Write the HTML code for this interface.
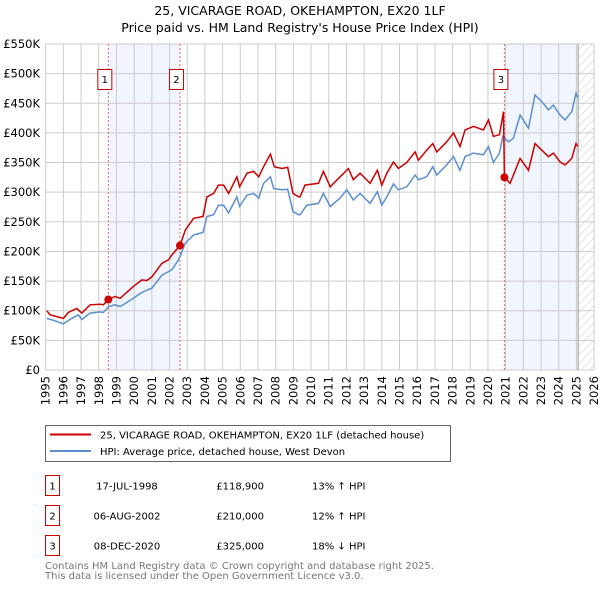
<!DOCTYPE html>
<html><head><meta charset="utf-8"><style>
body{margin:0;background:#fff;font-family:"Liberation Sans","DejaVu Sans",sans-serif;}
svg text{font-family:"DejaVu Sans","Liberation Sans",sans-serif;}
</style></head><body>
<svg id="chart" width="600" height="590" xmlns="http://www.w3.org/2000/svg">
<defs><pattern id="hatch" width="6" height="6" patternUnits="userSpaceOnUse" patternTransform="rotate(45)"><line x1="0" y1="0" x2="0" y2="6" stroke="#bbb" stroke-width="0.8"/></pattern></defs>
<text x="300" y="15" font-size="12.5" text-anchor="middle" fill="#000">25, VICARAGE ROAD, OKEHAMPTON, EX20 1LF</text>
<text x="300" y="32" font-size="12.5" text-anchor="middle" fill="#000">Price paid vs. HM Land Registry's House Price Index (HPI)</text>
<g id="grid"></g><g id="marks"></g><g id="axes"></g>
<rect x="45.5" y="425.5" width="405" height="36" fill="#fff" stroke="#666"/>
<line x1="50" y1="434.5" x2="91" y2="434.5" stroke="#cc0000" stroke-width="2"/>
<text x="100" y="438.5" font-size="10">25, VICARAGE ROAD, OKEHAMPTON, EX20 1LF (detached house)</text>
<line x1="50" y1="451" x2="91" y2="451" stroke="#5b8fd0" stroke-width="2"/>
<text x="100" y="455" font-size="10">HPI: Average price, detached house, West Devon</text>
<g id="table" font-size="10"></g>
<text x="45" y="569" font-size="10" fill="#777">Contains HM Land Registry data © Crown copyright and database right 2025.</text>
<text x="45" y="579" font-size="10" fill="#777">This data is licensed under the Open Government Licence v3.0.</text>
</svg>
<script>
const hpiYears=[1995.06,1995.53,1996.0,1996.47,1996.85,1997.04,1997.51,1998.08,1998.26,1998.55,1998.92,1999.21,1999.96,2000.34,2000.72,2001.0,2001.57,2001.94,2002.13,2002.51,2002.89,2003.36,2003.89,2004.11,2004.49,2004.77,2005.06,2005.34,2005.81,2005.96,2006.38,2006.75,2007.04,2007.32,2007.7,2007.89,2008.36,2008.68,2008.98,2009.3,2009.38,2009.76,2010.42,2010.7,2011.08,2011.64,2012.02,2012.39,2012.77,2013.34,2013.75,2014.0,2014.28,2014.66,2014.94,2015.41,2015.88,2016.07,2016.54,2016.88,2017.11,2017.67,2018.05,2018.42,2018.71,2019.18,2019.74,2020.03,2020.31,2020.65,2020.84,2021.16,2021.44,2021.82,2022.29,2022.66,2023.04,2023.42,2023.7,2024.08,2024.36,2024.74,2024.98,2025.08];
const hpiValues=[87,83,78,87,93,85,96,98,97,107,110,107,121,129,135,138,160,166,169,186,214,228,232,259,262,278,278,265,292,276,295,298,290,315,326,306,304,305,267,262,262,278,281,298,276,290,304,287,298,281,301,278,292,314,304,309,329,321,326,343,329,346,360,337,360,366,363,377,350,366,394,385,391,430,408,464,453,439,447,430,422,436,467,459];
const priceYears=[1995.06,1995.25,1996.0,1996.28,1996.75,1997.04,1997.51,1998.08,1998.26,1998.54,1998.92,1999.21,1999.96,2000.43,2000.72,2001.0,2001.57,2001.94,2002.13,2002.59,2002.89,2003.36,2003.89,2004.11,2004.49,2004.77,2005.06,2005.34,2005.81,2005.96,2006.38,2006.75,2007.04,2007.32,2007.7,2007.92,2008.36,2008.68,2008.98,2009.3,2009.38,2009.66,2010.42,2010.7,2011.08,2011.64,2012.11,2012.39,2012.77,2013.34,2013.75,2014.0,2014.28,2014.66,2014.94,2015.41,2015.88,2016.07,2016.54,2016.88,2017.11,2017.67,2018.05,2018.42,2018.71,2019.18,2019.74,2020.03,2020.31,2020.65,2020.88,2020.93,2021.25,2021.82,2022.29,2022.66,2023.04,2023.42,2023.7,2024.08,2024.36,2024.74,2024.98,2025.08];
const priceValues=[100,93,87,97,104,96,110,111,110,118.9,124,121,141,152,151,157,180,186,194,210,236,256,259,292,298,312,312,298,326,309,332,335,326,343,364,343,340,342,298,292,292,312,315,335,309,326,340,321,332,315,337,312,332,351,340,350,368,354,371,382,368,385,400,377,405,411,405,422,394,397,436,325,315,357,337,382,371,360,366,351,346,357,382,377];
const saleLabels=["1","2","3"];
const saleYears=[1998.54,2002.59,2020.93];
const saleValues=[118.9,210,325];
const saleDates=["17-JUL-1998","06-AUG-2002","08-DEC-2020"];
const salePrices=["£118,900","£210,000","£325,000"];
const saleDiffs=["13% ↑ HPI","12% ↑ HPI","18% ↓ HPI"];
const yTicks=[0,50,100,150,200,250,300,350,400,450,500,550];
const yTickLabels=["£0","£50K","£100K","£150K","£200K","£250K","£300K","£350K","£400K","£450K","£500K","£550K"];
const xTicks=[];for(let y=1995;y<=2026;y++)xTicks.push(y);
const shadeRanges=[[1998.54,2002.59],[2020.93,2025.1]];
const X0=45.7,PX=17.69,Y0=370,PY=326/550;
const xs=y=>X0+(y-1995)*PX, ys=v=>Y0-v*PY;
const NS="http://www.w3.org/2000/svg";
function mk(p,t,a){const e=document.createElementNS(NS,t);for(const k in a)e.setAttribute(k,a[k]);p.appendChild(e);return e;}
const grid=document.getElementById('grid'),marks=document.getElementById('marks'),axes=document.getElementById('axes');
shadeRanges.forEach(r=>{const e=mk(grid,'rect',{x:xs(r[0]),y:ys(550),width:xs(r[1])-xs(r[0]),height:Y0-ys(550),fill:'#eef3fc',opacity:0.8});

});
const h=mk(grid,'rect',{x:xs(2025.1),y:ys(550),width:xs(2026)-xs(2025.1),height:Y0-ys(550),fill:'url(#hatch)'});


yTicks.forEach((v,i)=>{const l=mk(grid,'line',{x1:X0,x2:xs(2026),y1:ys(v),y2:ys(v),stroke:'#ccc'});


const t=mk(axes,'text',{x:40,y:ys(v)+4,'font-size':11.5,'text-anchor':'end'});t.textContent=yTickLabels[i];

});
xTicks.forEach(y=>{const l=mk(grid,'line',{x1:xs(y),x2:xs(y),y1:ys(550),y2:Y0,stroke:'#ccc'});


const t=mk(axes,'text',{x:0,y:0,'font-size':11.5,'text-anchor':'end',transform:`translate(${xs(y)+4},${Y0+6}) rotate(-90)`});t.textContent=y;

});
const gl=mk(grid,'line',{x1:xs(2025.1),x2:xs(2025.1),y1:ys(550),y2:Y0,stroke:'#999'});


saleYears.forEach((y,i)=>{const l=mk(grid,'line',{x1:xs(y),x2:xs(y),y1:ys(550),y2:Y0,stroke:'#e06666','stroke-dasharray':'2,2'});

});
const pl=(xa,va)=>xa.map((y,i)=>xs(y).toFixed(1)+','+ys(va[i]).toFixed(1)).join(' ');
const hl=mk(marks,'polyline',{points:pl(hpiYears,hpiValues),fill:'none',stroke:'#5b8fd0','stroke-width':1.5});


const rl=mk(marks,'polyline',{points:pl(priceYears,priceValues),fill:'none',stroke:'#cc0000','stroke-width':1.5});


saleYears.forEach((y,i)=>{const c=mk(marks,'circle',{cx:xs(y),cy:ys(saleValues[i]),r:4,fill:'#cc0000'});


const b=mk(marks,'rect',{x:xs(y)-10.5,y:69.5,width:14,height:20,fill:'#fff',stroke:'#cc0000'});


const t=mk(marks,'text',{x:xs(y)-3.5,y:83,'font-size':10,'text-anchor':'middle'});t.textContent=saleLabels[i];

});
const tb=document.getElementById('table');
saleLabels.forEach((s,i)=>{const yy=475.5+i*30;
const b=mk(tb,'rect',{x:45.5,y:yy,width:14,height:20,fill:'#fff',stroke:'#cc0000'});


const cells=[[52.5,s,'middle','table-row-number'],[127,saleDates[i],'middle','table-row-date'],[264,salePrices[i],'end','table-row-price'],[312,saleDiffs[i],'start','table-row-hpi-diff']];
cells.forEach(c=>{const t=mk(tb,'text',{x:c[0],y:yy+14,'text-anchor':c[2]});t.textContent=c[1];

});});
</script>
</body></html>
